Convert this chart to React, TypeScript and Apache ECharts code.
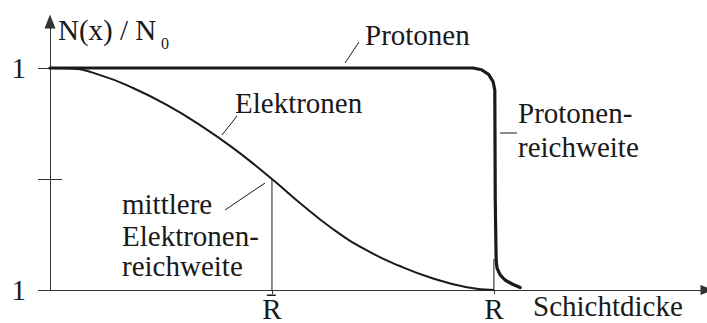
import { useEffect, useRef } from 'react';
import * as echarts from 'echarts';

const FONT = 'Liberation Serif';
const INK = '#1a1a1a';
const AXIS = '#333333';

// Depth in units of the proton range R, transmission N(x)/N0
const electronDepth = [0, 0.045, 0.113, 0.187, 0.264, 0.338, 0.412, 0.5, 0.563, 0.637, 0.714, 0.788, 0.863, 0.939, 1.0];
const electronN = [1, 0.998, 0.968, 0.91, 0.833, 0.743, 0.64, 0.5, 0.392, 0.275, 0.178, 0.108, 0.052, 0.012, 0];

const protonDepth = [0, 0.5, 0.953, 0.972, 0.988, 0.998, 1.002, 1.003, 1.005, 1.007, 1.014, 1.025, 1.041, 1.059];
const protonN = [1, 1, 1, 0.992, 0.971, 0.939, 0.901, 0.405, 0.135, 0.099, 0.068, 0.045, 0.027, 0.011];

const R_BAR = 0.5; // mittlere Elektronenreichweite
const N_AT_R_BAR = 0.5;
const R_P = 1.0; // Protonenreichweite
const R_P_MARK = 0.14;

const yTickValues = [0, 0.5, 1];
const yLabelValues = [0, 1];
const yLabelTexts = ['1', '1'];
const yMidTick = [0.5];
const xTickValues = [R_BAR, R_P];
const xTickLabels = ['R\u0304', 'R'];

const X_MAX = 1.48;
const Y_MAX = 1.21;

const zip = (xs: number[], ys: number[]) => xs.map((x, i) => [x, ys[i]]);

const txt = (text: string, x: number, y: number, size = 29) => ({
  type: 'text',
  x,
  y,
  style: {
    text,
    fontFamily: FONT,
    fontSize: size,
    fill: INK,
    align: 'left',
    verticalAlign: 'middle',
  },
});

const leader = (x1: number, y1: number, x2: number, y2: number) => ({
  type: 'line',
  shape: { x1, y1, x2, y2 },
  style: { stroke: INK, lineWidth: 1 },
});

export default function App() {
  const ref = useRef<HTMLDivElement>(null);

  useEffect(() => {
    if (!ref.current) return;
    const chart = echarts.init(ref.current, null, { renderer: 'svg' });
    const gridBottom = 33;
    const gridTop = 323 - gridBottom - 222 * Y_MAX;

    chart.setOption({
      animation: false,
      backgroundColor: '#ffffff',
      textStyle: { fontFamily: FONT },
      grid: { left: 50, right: 0, top: gridTop, bottom: gridBottom },
      xAxis: {
        type: 'value',
        min: 0,
        max: X_MAX,
        axisLine: {
          show: true,
          symbol: ['none', 'triangle'],
          symbolSize: [10, 13],
          lineStyle: { color: AXIS, width: 1 },
        },
        axisTick: { show: true, customValues: xTickValues, length: 4, lineStyle: { color: AXIS } },
        axisLabel: {
          show: true,
          customValues: xTickValues,
          formatter: (v: number) => xTickLabels[xTickValues.indexOf(v)] ?? '',
          fontFamily: FONT,
          fontSize: 29,
          color: INK,
          margin: 4,
        },
        splitLine: { show: false },
      },
      yAxis: [
        {
          type: 'value',
          min: 0,
          max: Y_MAX,
          position: 'left',
          axisLine: {
            show: true,
            symbol: ['none', 'triangle'],
            symbolSize: [11, 14],
            lineStyle: { color: AXIS, width: 1 },
          },
          axisTick: { show: true, customValues: yTickValues, length: 12, lineStyle: { color: AXIS } },
          axisLabel: {
            show: true,
            customValues: yLabelValues,
            formatter: (v: number) => yLabelTexts[yLabelValues.indexOf(v)] ?? '',
            fontFamily: FONT,
            fontSize: 29,
            color: INK,
            margin: 24,
          },
          splitLine: { show: false },
        },
        {
          type: 'value',
          min: 0,
          max: Y_MAX,
          position: 'left',
          axisLine: { show: false },
          axisTick: { show: true, inside: true, customValues: yMidTick, length: 12, lineStyle: { color: AXIS } },
          axisLabel: { show: false },
          splitLine: { show: false },
        },
      ],
      series: [
        {
          name: 'Elektronen',
          type: 'line',
          data: zip(electronDepth, electronN),
          showSymbol: false,
          smooth: 0.5,
          lineStyle: { color: INK, width: 2 },
        },
        {
          name: 'Protonen',
          type: 'line',
          data: zip(protonDepth, protonN),
          showSymbol: false,
          lineStyle: { color: INK, width: 3.2, join: 'round', cap: 'round' },
        },
        {
          name: 'mittlere Reichweite',
          type: 'line',
          data: [[R_BAR, 0], [R_BAR, N_AT_R_BAR]],
          showSymbol: false,
          lineStyle: { color: INK, width: 1 },
        },
        {
          name: 'Protonenreichweite',
          type: 'line',
          data: [[R_P, 0], [R_P, R_P_MARK]],
          showSymbol: false,
          lineStyle: { color: INK, width: 1 },
        },
      ],
      graphic: [
        txt('N(x) / N', 58, 30),
        txt('0', 161, 43, 16),
        txt('Protonen', 365, 35),
        leader(345, 63, 359, 42),
        txt('Elektronen', 235, 103),
        leader(222, 135, 237, 116),
        txt('Protonen-', 518, 113),
        txt('reichweite', 518, 147),
        leader(500, 133, 517, 133),
        txt('mittlere', 122, 204),
        txt('Elektronen-', 122, 236),
        txt('reichweite', 122, 266),
        leader(225, 210, 265, 183),
        txt('Schichtdicke', 533, 306),
      ],
    });

    return () => chart.dispose();
  }, []);

  return (
    <div
      ref={ref}
      style={{ position: 'fixed', left: 0, top: 0, width: 707, height: 323, background: '#fff' }}
    />
  );
}
